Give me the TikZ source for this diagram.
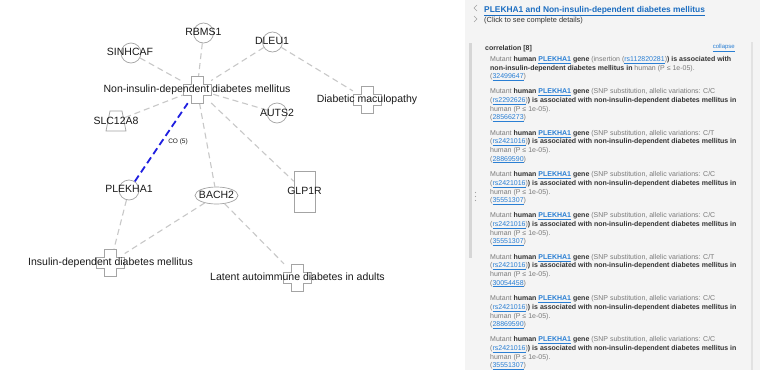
\documentclass[tikz,border=0pt]{standalone}
\usepackage{fontspec}
\setmainfont{Liberation Sans}
\usetikzlibrary{shapes.geometric}
\definecolor{edgegray}{HTML}{C8C8C8}
\definecolor{shapegray}{HTML}{A4A4A4}
\definecolor{cblue}{HTML}{1F1FE0}
\definecolor{panelbg}{HTML}{F4F4F4}
\definecolor{barL}{HTML}{D6D6D6}
\definecolor{barR}{HTML}{E2E2E2}
\definecolor{txtgray}{HTML}{7A7A7A}
\definecolor{txtdark}{HTML}{333333}
\definecolor{linkblue}{HTML}{2A7FD4}
\definecolor{titleblue}{HTML}{1B6DC1}
\definecolor{lblack}{HTML}{1A1A1A}

\newcommand{\gy}[1]{\textcolor{txtgray}{#1}}
\newcommand{\bk}[1]{\textcolor{txtdark}{\bfseries #1}}
\newcommand{\lk}[1]{\textcolor{linkblue}{\underline{#1}}}
\newcommand{\gn}{\textcolor{linkblue}{\bfseries\underline{PLEKHA1}}}

\newcommand{\crossat}[1]{%
  \draw[crossline] (#1.center) ++(-6,-13.5) -- ++(12,0) -- ++(0,8) -- ++(8,0) -- ++(0,11) -- ++(-8,0) -- ++(0,8) -- ++(-12,0) -- ++(0,-8) -- ++(-8,0) -- ++(0,-11) -- ++(8,0) -- cycle;}

\newcommand{\snpentry}[5]{%
  \node[ptext] (#1a) at (490,#2) {\gy{Mutant} \bk{human} \gn\ \bk{gene} \gy{(SNP substitution, allelic variations: #3}};
  \node[ptext] (#1b) at (490,#2+8.6) {\gy{(}\lk{#4}\gy{)}\bk{) is associated with non-insulin-dependent diabetes mellitus in}};
  \node[ptext] (#1c) at (490,#2+17.2) {\gy{human (P ≤ 1e-05).}};
  \node[ptext] (#1d) at (490,#2+25.8) {\gy{(}\lk{#5}\gy{)}};
}

\tikzset{
  gcirc/.style={circle, draw=shapegray, fill=white, line width=0.7pt, minimum size=20pt, inner sep=0pt},
  gell/.style={ellipse, draw=shapegray, fill=white, line width=0.7pt, minimum width=43pt, minimum height=17pt, inner sep=0pt},
  grect/.style={rectangle, draw=shapegray, fill=white, line width=0.7pt, minimum width=21pt, minimum height=41pt, inner sep=0pt},
  trapnode/.style={rectangle, minimum width=18pt, minimum height=20pt, inner sep=0pt},
  crossnode/.style={rectangle, minimum width=28pt, minimum height=27pt, inner sep=0pt},
  crossline/.style={draw=shapegray, fill=white, line width=0.7pt},
  glabel/.style={font=\fontsize{10.5}{12}\selectfont, text=lblack, inner sep=0pt, text height=7.6pt, text depth=2.1pt},
  edge/.style={draw=edgegray, line width=1.1pt, dash pattern=on 6pt off 4pt},
  coedge/.style={draw=cblue, line width=1.8pt, dash pattern=on 7pt off 4pt},
  colabel/.style={font=\fontsize{6.5}{7}\selectfont, text=lblack, inner sep=0pt},
  ptext/.style={anchor=west, inner sep=0pt, font=\fontsize{7}{8}\selectfont, text height=5.1pt, text depth=1.5pt},
}

\begin{document}
\begin{tikzpicture}[x=1pt, y=-1pt]
\useasboundingbox (0,0) rectangle (760,370);
\fill[white] (0,0) rectangle (760,370);

% ---------------- right panel ----------------
\fill[panelbg] (465,0) rectangle (760,370);
\fill[barL] (469,43) rectangle (472,258);
\fill[barR] (751,42) rectangle (753,370);
\draw[txtgray!70, line width=0.6pt] (477,5) -- (474,8) -- (477,11);
\draw[txtgray!70, line width=0.6pt] (474,16) -- (477,19) -- (474,22);
\foreach \yy in {192.5,196.5,200.5} \fill[txtgray!70] (475.5,\yy) circle (0.6);

\node[anchor=west, inner sep=0pt, font=\fontsize{8.4}{10}\selectfont\bfseries, text=titleblue] (title) at (484,11) {\underline{PLEKHA1 and Non-insulin-dependent diabetes mellitus}};
\node[anchor=west, inner sep=0pt, font=\fontsize{7.4}{8}\selectfont, text=txtdark] (sub) at (484,21) {(Click to see complete details)};
\node[anchor=west, inner sep=0pt, font=\fontsize{7}{8}\selectfont\bfseries, text=txtdark] (corr) at (485,49) {correlation [8]};
\node[anchor=east, inner sep=0pt, font=\fontsize{6}{7}\selectfont, text=linkblue] (collapse) at (735,48) {\underline{collapse}};

\node[ptext] (ea) at (490,60) {\gy{Mutant} \bk{human} \gn\ \bk{gene} \gy{(insertion} \gy{(}\lk{rs112820281}\gy{)}\bk{) is associated with}};
\node[ptext] (eb) at (490,68.5) {\bk{non-insulin-dependent diabetes mellitus in} \gy{human (P ≤ 1e-05).}};
\node[ptext] (ec) at (490,77) {\gy{(}\lk{32499647}\gy{)}};
\snpentry{e2}{92}{C/C}{rs2292626}{28566273}
\snpentry{e3}{133.5}{C/T}{rs2421016}{28869590}
\snpentry{e4}{175}{C/C}{rs2421016}{35551307}
\snpentry{e5}{216}{C/C}{rs2421016}{35551307}
\snpentry{e6}{257.5}{C/T}{rs2421016}{30054458}
\snpentry{e7}{299}{C/C}{rs2421016}{28869590}
\snpentry{e8}{340}{C/C}{rs2421016}{35551307}

% ---------------- network ----------------
\node[gcirc] (rbms) at (203.5,33) {};
\node[gcirc] (sinhcaf) at (131,53) {};
\node[gcirc] (dleu) at (272.5,42) {};
\node[gcirc] (auts) at (277,113) {};
\node[gcirc] (plek) at (129,190) {};
\node[gell] (bach) at (216.5,195.5) {};
\node[grect] (glp) at (304.5,191.5) {};
\node[trapnode] (slc) at (116,121) {};
\node[crossnode] (nidm) at (197,89.5) {};
\node[crossnode] (dmac) at (367,99.5) {};
\node[crossnode] (idm) at (110.5,262.5) {};
\node[crossnode] (lada) at (297.5,277.5) {};

\draw[edge] (rbms) -- (nidm);
\draw[edge] (sinhcaf) -- (nidm);
\draw[edge] (dleu) -- (nidm);
\draw[edge] (dleu) -- (dmac);
\draw[edge] (slc) -- (nidm);
\draw[edge] (auts) -- (nidm);
\draw[edge] (nidm) -- (bach);
\draw[edge] (nidm) -- (glp);
\draw[edge] (plek) -- (idm);
\draw[edge] (bach) -- (idm);
\draw[edge] (bach) -- (lada);
\draw[coedge] (plek) -- (nidm);

\draw[crossline] (slc.center) ++(-6,-10) -- ++(12,0) -- ++(4,20) -- ++(-20,0) -- cycle;
\crossat{nidm}
\crossat{dmac}
\crossat{idm}
\crossat{lada}

\node[glabel] (rbmsL) at (203.5,32.5) {RBMS1};
\node[glabel] (sinhcafL) at (130,53) {SINHCAF};
\node[glabel] (dleuL) at (272,41.5) {DLEU1};
\node[glabel] (nidmL) at (197,90) {Non-insulin-dependent diabetes mellitus};
\node[glabel] (slcL) at (116,122) {SLC12A8};
\node[glabel] (dmacL) at (367,99.5) {Diabetic maculopathy};
\node[glabel] (autsL) at (277,114) {AUTS2};
\node[glabel] (plekL) at (129,190) {PLEKHA1};
\node[glabel] (bachL) at (216.5,195.5) {BACH2};
\node[glabel] (glpL) at (304.5,191.5) {GLP1R};
\node[glabel] (idmL) at (110.5,263) {Insulin-dependent diabetes mellitus};
\node[glabel] (ladaL) at (297.5,278) {Latent autoimmune diabetes in adults};
\node[colabel] (co) at (178,142) {CO (5)};
\end{tikzpicture}
\end{document}
